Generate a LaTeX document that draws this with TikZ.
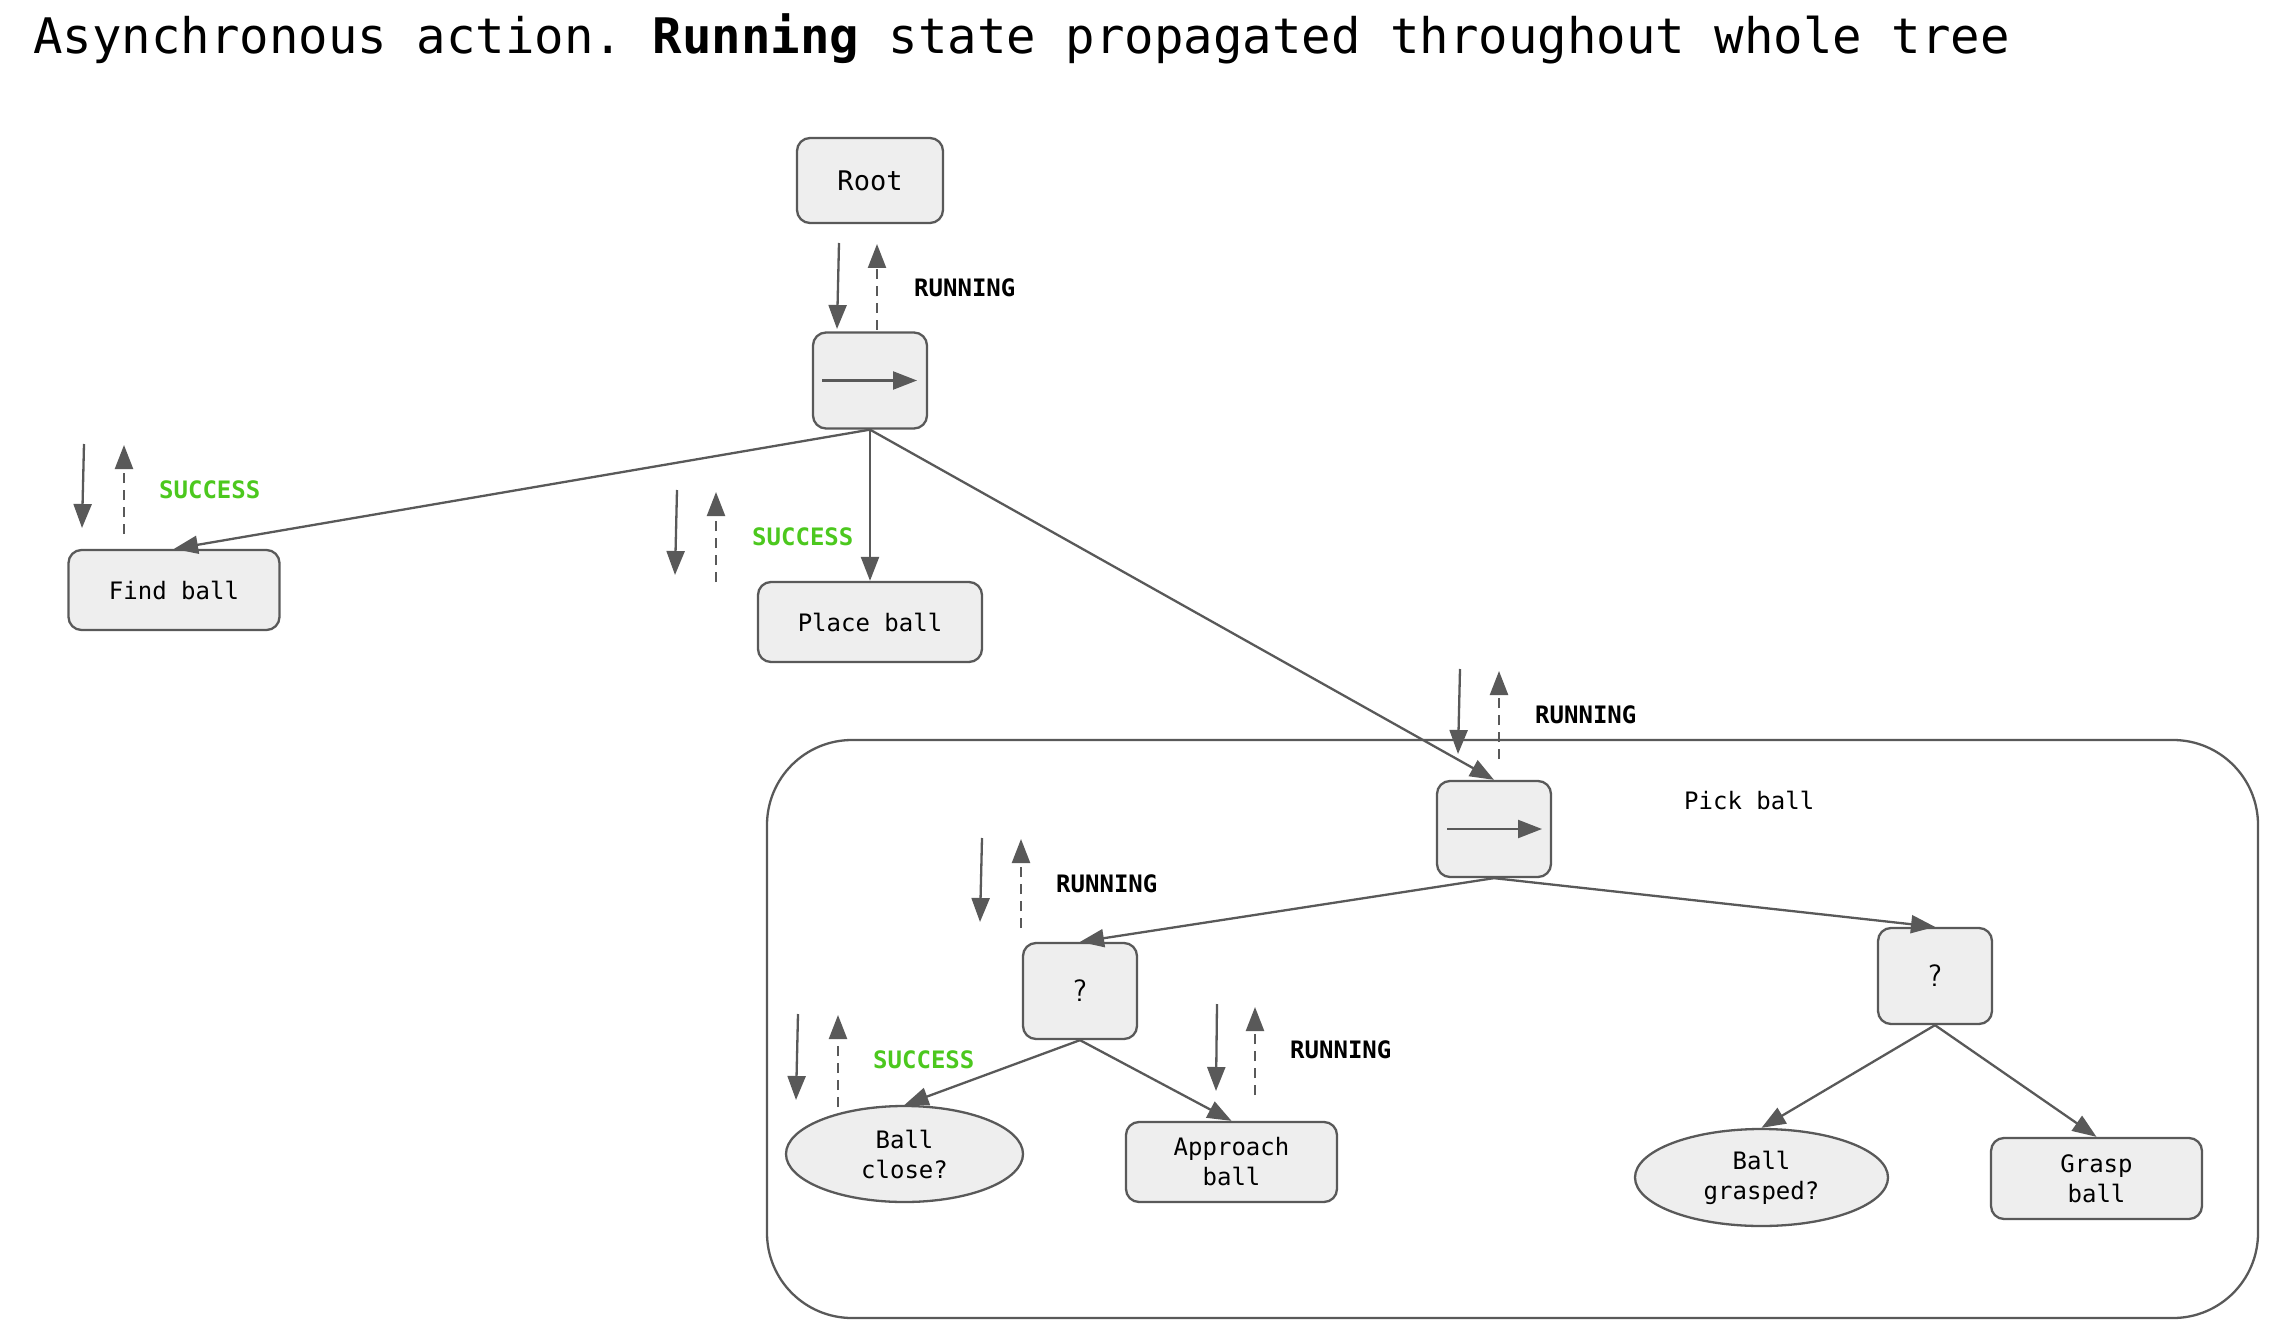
\documentclass[tikz,border=0pt]{standalone}
\usepackage{fontspec}
\setmainfont{DejaVu Sans}
\setmonofont{DejaVu Sans Mono}
\usetikzlibrary{arrows.meta,shapes.geometric}
\definecolor{edgegray}{HTML}{595959}
\definecolor{nodefill}{HTML}{EEEEEE}
\definecolor{okgreen}{HTML}{4CC81E}
\begin{document}
\begin{tikzpicture}[x=1pt,y=-1pt,
  box/.style={draw=edgegray, fill=nodefill, line width=2.3pt, rounded corners=13pt,
    font=\ttfamily\fontsize{24}{30}\selectfont, align=center, inner sep=0pt},
  oval/.style={box, ellipse},
  ctrl/.style={box, minimum width=114pt, minimum height=96pt},
  edge/.style={draw=edgegray, line width=2.3pt, -{Triangle[length=24pt,width=18pt]}},
  tick/.style={draw=edgegray, line width=2.3pt, -{Triangle[length=24pt,width=18pt]}},
  tickret/.style={tick, dash pattern=on 10pt off 7pt},
  stat/.style={anchor=west, inner sep=0pt, font=\ttfamily\bfseries\fontsize{24}{30}\selectfont},
  running/.style={stat, text=black},
  success/.style={stat, text=okgreen},
  qmark/.style={font=\sffamily\fontsize{31}{32}\selectfont}
]
\useasboundingbox (0,0) rectangle (2281,1332);

% title
\node[anchor=base west, inner sep=0pt, font=\ttfamily\fontsize{49}{55}\selectfont] (title) at (33,54)
  {Asynchronous action. \textbf{Running} state propagated throughout whole tree};

% pick ball container
\node[draw=edgegray, line width=2.3pt, rounded corners=85pt, minimum width=1491pt, minimum height=578pt, inner sep=0pt] (pickbox) at (1512.5,1029) {};
\node[anchor=west, inner sep=0pt, font=\ttfamily\fontsize{24}{30}\selectfont] (picklabel) at (1684,800) {Pick ball};

% nodes
\node[box, minimum width=146pt, minimum height=85pt, font=\ttfamily\fontsize{27}{30}\selectfont] (root) at (870,180.5) {Root};
\node[ctrl] (seq1) at (870,380.5) {};
\node[box, minimum width=211pt, minimum height=80pt] (find) at (174,590) {Find ball};
\node[box, minimum width=224pt, minimum height=80pt] (place) at (870,622) {Place ball};
\node[ctrl] (seq2) at (1494,829) {};
\node[ctrl, qmark] (sel1) at (1080,991) {?};
\node[ctrl, qmark] (sel2) at (1935,976) {?};
\node[oval, minimum width=237pt, minimum height=96pt] (close) at (904.5,1154) {Ball\\close?};
\node[box, minimum width=211pt, minimum height=80pt] (approach) at (1231.5,1162) {Approach\\ball};
\node[oval, minimum width=253pt, minimum height=97pt] (grasped) at (1761.5,1177.5) {Ball\\grasped?};
\node[box, minimum width=211pt, minimum height=81pt] (grasp) at (2096.5,1178.5) {Grasp\\ball};

% sequence symbols inside control nodes
\draw[tick] ([xshift=-48pt]seq1.center) -- ([xshift=47pt]seq1.center);
\draw[tick] ([xshift=-47pt]seq2.center) -- ([xshift=48pt]seq2.center);

% tree edges
\draw[edge] (seq1.south) -- (find.north);
\draw[edge] (seq1.south) -- (place.north);
\draw[edge] (seq1.south) -- (seq2.north);
\draw[edge] (seq2.south) -- (sel1.north);
\draw[edge] (seq2.south) -- (sel2.north);
\draw[edge] (sel1.south) -- (close.north);
\draw[edge] (sel1.south) -- (approach.north);
\draw[edge] (sel2.south) -- (grasped.north);
\draw[edge] (sel2.south) -- (grasp.north);

% tick / status arrows
\coordinate (ra1) at (839,243);  \coordinate (ra2) at (837,329);
\coordinate (rb1) at (877,330);  \coordinate (rb2) at (877,244);
\draw[tick] (ra1) -- (ra2); \draw[tickret] (rb1) -- (rb2);
\node[running] (rootstat) at (914,288) {RUNNING};

\coordinate (fa1) at (84,444);   \coordinate (fa2) at (82,528);
\coordinate (fb1) at (124,534);  \coordinate (fb2) at (124,445);
\draw[tick] (fa1) -- (fa2); \draw[tickret] (fb1) -- (fb2);
\node[success] (findstat) at (159,490) {SUCCESS};

\coordinate (pa1) at (677,490);  \coordinate (pa2) at (675,575);
\coordinate (pb1) at (716,582);  \coordinate (pb2) at (716,492);
\draw[tick] (pa1) -- (pa2); \draw[tickret] (pb1) -- (pb2);
\node[success] (placestat) at (752,537) {SUCCESS};

\coordinate (qa1) at (1460,669); \coordinate (qa2) at (1458,754);
\coordinate (qb1) at (1499,759); \coordinate (qb2) at (1499,671);
\draw[tick] (qa1) -- (qa2); \draw[tickret] (qb1) -- (qb2);
\node[running] (seq2stat) at (1535,715) {RUNNING};

\coordinate (sa1) at (982,838);  \coordinate (sa2) at (980,922);
\coordinate (sb1) at (1021,928); \coordinate (sb2) at (1021,839);
\draw[tick] (sa1) -- (sa2); \draw[tickret] (sb1) -- (sb2);
\node[running] (sel1stat) at (1056,884) {RUNNING};

\coordinate (ca1) at (798,1014); \coordinate (ca2) at (796,1100);
\coordinate (cb1) at (838,1107); \coordinate (cb2) at (838,1015);
\draw[tick] (ca1) -- (ca2); \draw[tickret] (cb1) -- (cb2);
\node[success] (closestat) at (873,1060) {SUCCESS};

\coordinate (aa1) at (1217,1004); \coordinate (aa2) at (1216,1091);
\coordinate (ab1) at (1255,1095); \coordinate (ab2) at (1255,1007);
\draw[tick] (aa1) -- (aa2); \draw[tickret] (ab1) -- (ab2);
\node[running] (approachstat) at (1290,1050) {RUNNING};
\end{tikzpicture}
\end{document}
